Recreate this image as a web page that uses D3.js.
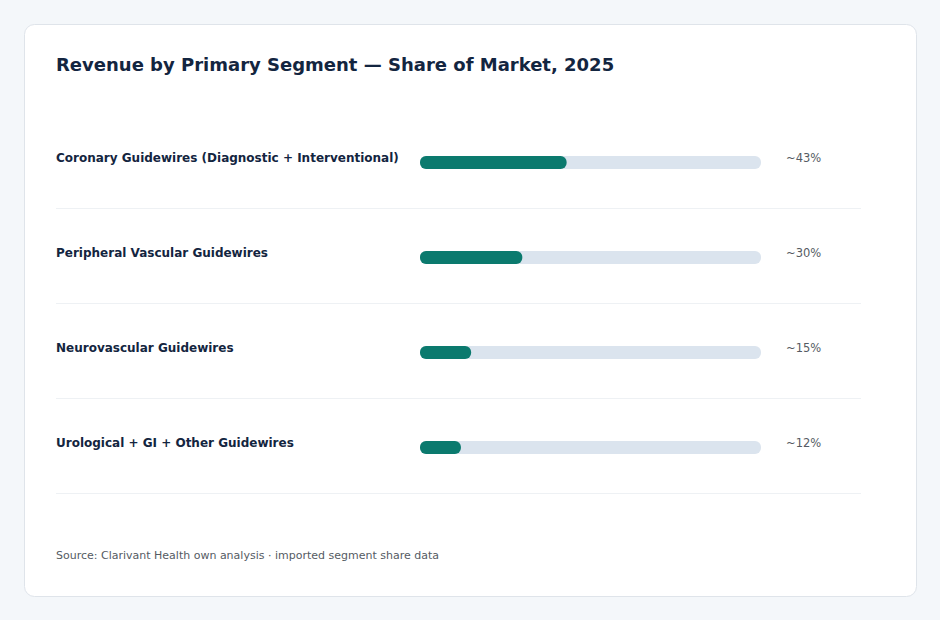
<!DOCTYPE html>
<html>
<head>
<meta charset="utf-8">
<script src="https://cdn.jsdelivr.net/npm/d3@7"></script>
<style>
  html, body { margin: 0; padding: 0; background: #f4f7fa; }
  body { width: 940px; height: 620px; font-family: "DejaVu Sans", sans-serif; }
</style>
</head>
<body>
<div id="chart"></div>
<script>
  const segments = [
    "Coronary Guidewires (Diagnostic + Interventional)",
    "Peripheral Vascular Guidewires",
    "Neurovascular Guidewires",
    "Urological + GI + Other Guidewires"
  ];
  const shares = [43, 30, 15, 12];
  const shareLabels = ["~43%", "~30%", "~15%", "~12%"];

  const width = 940, height = 620;

  const svg = d3.select("#chart")
    .append("svg")
    .attr("width", width)
    .attr("height", height);

  // card
  svg.append("rect")
    .attr("x", 24.5).attr("y", 24.5)
    .attr("width", 892).attr("height", 572)
    .attr("rx", 10)
    .attr("fill", "#fff")
    .attr("stroke", "#dfe4ea");

  svg.append("text")
    .attr("x", 56).attr("y", 71)
    .attr("font-size", 18).attr("font-weight", "bold")
    .attr("fill", "#132540")
    .text("Revenue by Primary Segment \u2014 Share of Market, 2025");

  const y = d3.scaleBand()
    .domain(segments)
    .range([115, 495]);

  const x = d3.scaleLinear()
    .domain([0, 100])
    .range([420, 761]);

  const barH = 13;

  const row = svg.selectAll("g.row")
    .data(segments)
    .join("g")
    .attr("class", "row")
    .attr("transform", d => `translate(0, ${y(d)})`);

  row.append("text")
    .attr("x", 56).attr("y", 47)
    .attr("font-size", 12).attr("font-weight", "bold")
    .attr("fill", "#132540")
    .text(d => d);

  row.append("rect")
    .attr("x", x(0)).attr("y", 41)
    .attr("width", x(100) - x(0)).attr("height", barH)
    .attr("rx", 6)
    .attr("fill", "#dbe4ee");

  row.append("rect")
    .attr("x", x(0)).attr("y", 41)
    .attr("width", (d, i) => x(shares[i]) - x(0)).attr("height", barH)
    .attr("rx", 6)
    .attr("fill", "#0b7a6e");

  row.append("text")
    .attr("x", 786).attr("y", 47)
    .attr("font-size", 11.5)
    .attr("fill", "#555b63")
    .text((d, i) => shareLabels[i]);

  row.append("line")
    .attr("x1", 56).attr("x2", 861)
    .attr("y1", 93.5).attr("y2", 93.5)
    .attr("stroke", "#eef1f4");

  svg.append("text")
    .attr("x", 56).attr("y", 559)
    .attr("font-size", 11)
    .attr("fill", "#555b63")
    .text("Source: Clarivant Health own analysis \u00b7 imported segment share data");
</script>
</body>
</html>
